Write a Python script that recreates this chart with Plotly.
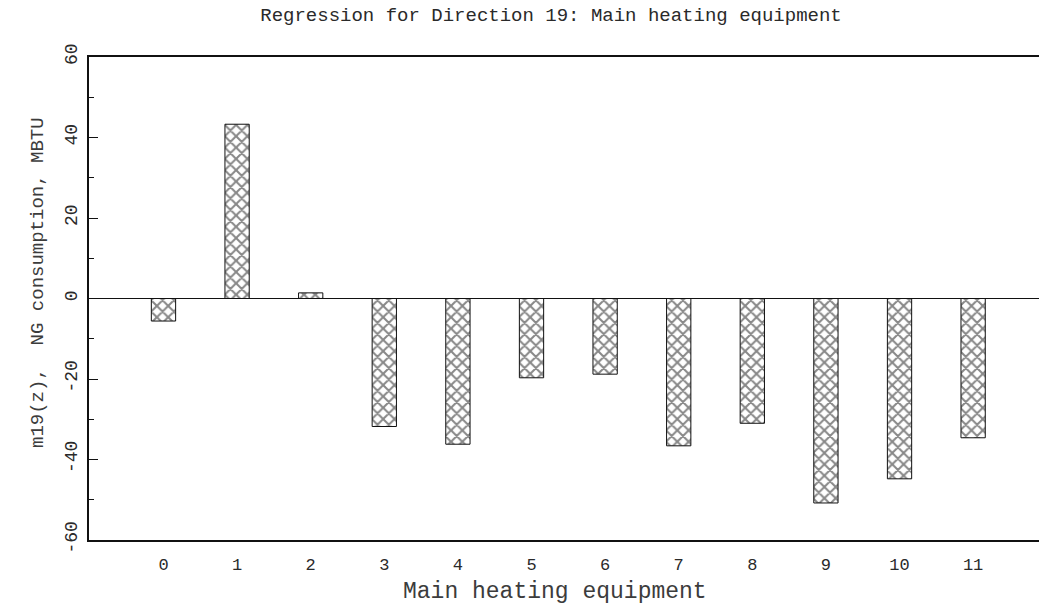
import plotly.graph_objects as go

# Main heating equipment categories and regression effects (MBTU)
categories = [0, 1, 2, 3, 4, 5, 6, 7, 8, 9, 10, 11]
effects = [-5.6, 43.3, 1.4, -31.8, -36.2, -19.7, -18.8, -36.6, -31.0, -50.8, -44.8, -34.6]
y_tick_values = [-60, -40, -20, 0, 20, 40, 60]
y_tick_labels = ["-60", "-40", "-20", "0", "20", "40", "60"]

FONT = "Liberation Mono"
INK = "#2a2a2a"
SOFT_INK = "#3c3c3c"

# plot-area pixel bounds
L, R, T, B = 89, 1039, 57, 540

fig = go.Figure()
fig.add_trace(go.Bar(
    x=categories,
    y=effects,
    width=0.33,
    marker=dict(
        color="white",
        line=dict(color="#111111", width=1),
        pattern=dict(shape="x", size=8, solidity=0.45, fgcolor="#111111", bgcolor="white"),
    ),
    showlegend=False,
))

fig.add_hline(y=0, line=dict(color="#111111", width=1))

fig.update_layout(
    width=1039,
    height=606,
    margin=dict(l=L, r=1039 - R, t=T, b=606 - B),
    paper_bgcolor="white",
    plot_bgcolor="white",
    title=dict(
        text="Regression for Direction 19: Main heating equipment",
        font=dict(family=FONT, size=19, color=INK),
        x=551 / 1039, xref="container", xanchor="center",
        y=1 - 14 / 606, yref="container", yanchor="middle",
    ),
    xaxis=dict(
        range=[-1.012, 11.895],
        tickmode="array",
        tickvals=categories,
        ticktext=[str(c) for c in categories],
        ticks="",
        ticklabelstandoff=8,
        showgrid=False,
        zeroline=False,
        showline=True,
        linecolor="#111111",
        linewidth=2,
        mirror=True,
        tickfont=dict(family=FONT, size=17, color=INK),
    ),
    yaxis=dict(
        range=[-60, 60],
        tickmode="array",
        tickvals=y_tick_values,
        ticktext=y_tick_labels,
        tickangle=-90,
        ticks="inside",
        ticklen=9,
        tickcolor="#111111",
        ticklabelstandoff=3,
        minor=dict(dtick=10, ticks="inside", ticklen=5, tickcolor="#111111"),
        showgrid=False,
        zeroline=False,
        showline=True,
        linecolor="#111111",
        linewidth=2,
        mirror=False,
        tickfont=dict(family=FONT, size=18, color=INK),
    ),
    yaxis2=dict(
        range=[-60, 60],
        overlaying="y",
        side="right",
        tickmode="array",
        tickvals=[-40, -20, 20, 40],
        ticks="inside",
        ticklen=2,
        tickcolor="#111111",
        showticklabels=False,
        showgrid=False,
        zeroline=False,
        showline=False,
    ),
    annotations=[
        dict(
            text="Main heating equipment",
            x=(555 - L) / (R - L), xref="paper", xanchor="center",
            y=-(592 - B) / (B - T), yref="paper", yanchor="middle",
            showarrow=False,
            font=dict(family=FONT, size=23, color=SOFT_INK),
        ),
        dict(
            text="m19(z),\u00a0\u00a0NG consumption, MBTU",
            textangle=-90,
            x=(38 - L) / (R - L), xref="paper", xanchor="center",
            y=(B - 283) / (B - T), yref="paper", yanchor="middle",
            showarrow=False,
            font=dict(family=FONT, size=19, color=SOFT_INK),
        ),
    ],
)

fig.write_html("out.html")
